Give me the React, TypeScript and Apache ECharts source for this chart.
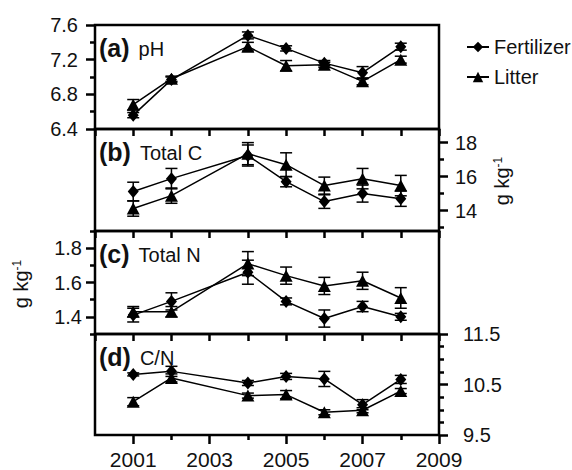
import React, { useEffect, useRef } from 'react';
import * as echarts from 'echarts';

const years = [2001, 2002, 2004, 2005, 2006, 2007, 2008];
const seriesNames = ['Fertilizer', 'Litter'];

// (a) pH
const phFert = [6.56, 6.97, 7.48, 7.33, 7.16, 7.05, 7.35];
const phFertErr = [0.03, 0.03, 0.04, 0.03, 0.03, 0.07, 0.04];
const phLitter = [6.68, 6.98, 7.35, 7.13, 7.14, 6.95, 7.2];
const phLitterErr = [0.06, 0.03, 0.05, 0.06, 0.03, 0.04, 0.04];

// (b) Total C
const tcFert = [15.12, 15.88, 17.24, 15.7, 14.53, 15.0, 14.7];
const tcFertErr = [0.55, 0.6, 0.62, 0.3, 0.4, 0.5, 0.45];
const tcLitter = [14.12, 14.88, 17.35, 16.7, 15.47, 15.88, 15.47];
const tcLitterErr = [0.45, 0.45, 0.65, 0.7, 0.5, 0.6, 0.6];

// (c) Total N
const tnFert = [1.41, 1.49, 1.66, 1.49, 1.39, 1.46, 1.4];
const tnFertErr = [0.04, 0.05, 0.07, 0.02, 0.05, 0.03, 0.02];
const tnLitter = [1.43, 1.43, 1.71, 1.64, 1.58, 1.61, 1.51];
const tnLitterErr = [0.03, 0.03, 0.07, 0.05, 0.05, 0.05, 0.06];

// (d) C/N
const cnFert = [10.7, 10.76, 10.53, 10.66, 10.61, 10.1, 10.6];
const cnFertErr = [0.03, 0.1, 0.05, 0.06, 0.15, 0.1, 0.08];
const cnLitter = [10.16, 10.63, 10.28, 10.3, 9.95, 9.99, 10.37];
const cnLitterErr = [0.08, 0.08, 0.05, 0.08, 0.05, 0.05, 0.05];

// tick values
const xTicksAll = [2000, 2001, 2002, 2003, 2004, 2005, 2006, 2007, 2008, 2009];
const xMajor = [2001, 2003, 2005, 2007, 2009];
const xMinor = [2002, 2004, 2006, 2008];
const phMajor = [6.4, 6.8, 7.2, 7.6];
const phMinor = [6.6, 7.0, 7.4];
const tcMajor = [14, 16, 18];
const tcMinor = [13, 15, 17];
const tnMajor = [1.4, 1.6, 1.8];
const tnMinor = [1.3, 1.5, 1.7, 1.9];
const cnMajor = [9.5, 10.5, 11.5];
const cnMinor = [9.75, 10, 10.25, 10.75, 11, 11.25];

const panelTitles = [
  ['(a)', 'pH'],
  ['(b)', 'Total C'],
  ['(c)', 'Total N'],
  ['(d)', 'C/N'],
];

const FONT = '"Liberation Sans", Arial, Helvetica, sans-serif';

export default function App() {
  const ref = useRef<HTMLDivElement>(null);

  useEffect(() => {
    if (!ref.current) return;
    const chart = echarts.init(ref.current, undefined, { renderer: 'svg' });

    const panels = [
      { fert: phFert, fertErr: phFertErr, lit: phLitter, litErr: phLitterErr, min: 6.4, max: 7.6, major: phMajor, minor: phMinor, pos: 'left', margin: 17 },
      { fert: tcFert, fertErr: tcFertErr, lit: tcLitter, litErr: tcLitterErr, min: 12.8, max: 18.8, major: tcMajor, minor: tcMinor, pos: 'right', margin: 16 },
      { fert: tnFert, fertErr: tnFertErr, lit: tnLitter, litErr: tnLitterErr, min: 1.3, max: 1.9, major: tnMajor, minor: tnMinor, pos: 'left', margin: 13 },
      { fert: cnFert, fertErr: cnFertErr, lit: cnLitter, litErr: cnLitterErr, min: 9.5, max: 11.5, major: cnMajor, minor: cnMinor, pos: 'right', margin: 24 },
    ];

    const tops = [25, 129, 231, 334];
    const heights = [104, 102, 103, 103];

    const grids = tops.map((t, i) => ({
      left: 95,
      width: 344,
      top: t,
      height: heights[i],
      show: true,
      borderColor: '#000',
      borderWidth: 2.5,
      backgroundColor: 'transparent',
    }));

    const tickStyle = { color: '#000', width: 2.5 };
    const labelBase = { fontSize: 20, fontFamily: FONT, color: '#111' };

    const xAxes: any[] = panels.map((_, i) => ({
      type: 'value',
      gridIndex: i,
      min: 2000,
      max: 2009,
      position: 'bottom',
      axisLine: { show: false },
      splitLine: { show: false },
      axisTick: {
        show: true,
        inside: false,
        length: i === 3 ? 9 : 7,
        customValues: i === 3 ? xMajor : xTicksAll,
        lineStyle: tickStyle,
      },
      axisLabel: {
        ...labelBase,
        show: i === 3,
        fontSize: 21,
        customValues: xMajor,
        formatter: (v: number) => String(v),
        margin: 14,
      },
    }));
    // minor ticks of the bottom axis
    xAxes.push({
      type: 'value',
      gridIndex: 3,
      min: 2000,
      max: 2009,
      position: 'bottom',
      axisLine: { show: false },
      splitLine: { show: false },
      axisTick: { show: true, inside: false, length: 5, customValues: xMinor, lineStyle: tickStyle },
      axisLabel: { show: false },
    });

    const yAxes: any[] = panels.map((p, i) => ({
      type: 'value',
      gridIndex: i,
      min: p.min,
      max: p.max,
      position: p.pos,
      axisLine: { show: false },
      splitLine: { show: false },
      axisTick: { show: true, inside: false, length: 9, customValues: p.major, lineStyle: tickStyle },
      axisLabel: {
        ...labelBase,
        show: true,
        customValues: p.major,
        formatter: (v: number) => String(v),
        margin: p.margin,
      },
    }));
    panels.forEach((p, i) => {
      yAxes.push({
        type: 'value',
        gridIndex: i,
        min: p.min,
        max: p.max,
        position: p.pos,
        axisLine: { show: false },
        splitLine: { show: false },
        axisTick: { show: true, inside: false, length: 5, customValues: p.minor, lineStyle: tickStyle },
        axisLabel: { show: false },
      });
    });

    const errRender = (params: any, api: any) => {
      const x = api.value(0);
      const lo = api.value(1);
      const hi = api.value(2);
      const top = api.coord([x, hi]);
      const bot = api.coord([x, lo]);
      const hw = 6;
      const style = { stroke: '#000', lineWidth: 1.5, fill: 'none' };
      return {
        type: 'group',
        children: [
          { type: 'line', shape: { x1: top[0], y1: top[1], x2: bot[0], y2: bot[1] }, style },
          { type: 'line', shape: { x1: top[0] - hw, y1: top[1], x2: top[0] + hw, y2: top[1] }, style },
          { type: 'line', shape: { x1: bot[0] - hw, y1: bot[1], x2: bot[0] + hw, y2: bot[1] }, style },
        ],
      };
    };

    const series: any[] = [];
    panels.forEach((p, i) => {
      const groups = [
        { name: seriesNames[0], vals: p.fert, errs: p.fertErr, symbol: 'diamond', size: [11, 13] },
        { name: seriesNames[1], vals: p.lit, errs: p.litErr, symbol: 'triangle', size: [13, 12] },
      ];
      groups.forEach((g) => {
        series.push({
          type: 'custom',
          name: g.name + ' err',
          xAxisIndex: i,
          yAxisIndex: i,
          renderItem: errRender,
          encode: { x: 0, y: [1, 2] },
          data: years.map((yr, k) => [yr, g.vals[k] - g.errs[k], g.vals[k] + g.errs[k]]),
          z: 2,
          silent: true,
        });
        series.push({
          type: 'line',
          name: g.name,
          xAxisIndex: i,
          yAxisIndex: i,
          data: years.map((yr, k) => [yr, g.vals[k]]),
          symbol: g.symbol,
          symbolSize: g.size,
          showSymbol: true,
          lineStyle: { color: '#000', width: 1.5 },
          itemStyle: { color: '#000' },
          z: 3,
        });
      });
    });

    const graphics: any[] = panelTitles.map((t, i) => ({
      type: 'text',
      x: 99,
      y: tops[i] + 23,
      style: {
        text: `{b|${t[0]}}{n|${t[1]}}`,
        verticalAlign: 'middle',
        fontFamily: FONT,
        fontSize: 20,
        fill: '#111',
        rich: {
          b: { fontSize: 25, fontWeight: 'bold', fontFamily: FONT, fill: '#111', verticalAlign: 'bottom' },
          n: { fontSize: 20, fontFamily: FONT, fill: '#111', padding: [0, 0, 2, 9], verticalAlign: 'bottom' },
        },
      },
    }));

    const unitStyle = {
      text: '{n|g kg}{s|-1}',
      align: 'center',
      verticalAlign: 'middle',
      fontFamily: FONT,
      fontSize: 20,
      fill: '#111',
      rich: {
        n: { fontSize: 20, fontFamily: FONT, fill: '#111', verticalAlign: 'bottom' },
        s: { fontSize: 12, fontFamily: FONT, fill: '#111', verticalAlign: 'top' },
      },
    };
    graphics.push({ type: 'text', x: 502, y: 181, rotation: Math.PI / 2, style: { ...unitStyle } });
    graphics.push({ type: 'text', x: 21, y: 284, rotation: Math.PI / 2, style: { ...unitStyle } });

    chart.setOption({
      animation: false,
      backgroundColor: '#fff',
      textStyle: { fontFamily: FONT },
      grid: grids,
      xAxis: xAxes,
      yAxis: yAxes,
      legend: {
        orient: 'vertical',
        left: 461,
        top: 32,
        itemWidth: 22,
        itemHeight: 13,
        itemGap: 10,
        data: seriesNames,
        textStyle: { fontSize: 20, color: '#111', fontFamily: FONT },
        selectedMode: false,
      },
      series,
      graphic: graphics,
    });

    return () => chart.dispose();
  }, []);

  return (
    <div
      ref={ref}
      style={{ position: 'absolute', left: 0, top: 0, width: 572, height: 470 }}
    />
  );
}
